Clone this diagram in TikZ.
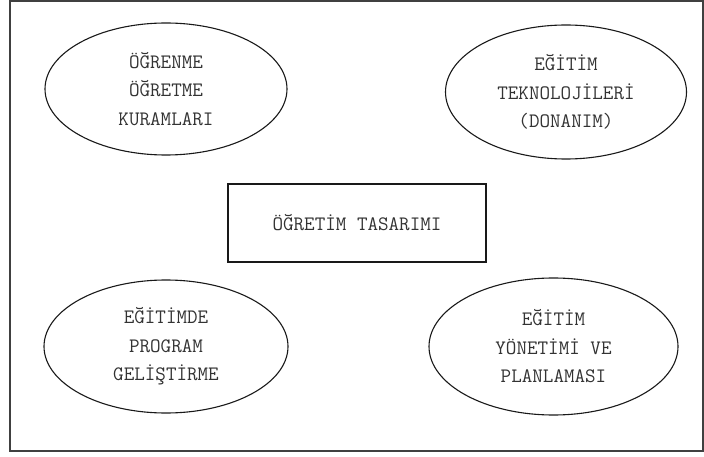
\documentclass[tikz,border=0pt]{standalone}
\usepackage{fontspec}
\usepackage{tikz}
\usetikzlibrary{shapes.geometric}

\tikzset{
  yazi/.style={font=\ttfamily\fontsize{20.5}{28.5}\selectfont, text=black!80, align=center},
  elips/.style={yazi, draw=black!90, line width=1.1pt, ellipse, inner sep=0pt},
  kutu/.style={yazi, draw=black!90, line width=1.1pt, rectangle, inner sep=0pt,
    minimum width=258pt, minimum height=78pt}
}

\begin{document}
\begin{tikzpicture}[x=1pt,y=-1pt]
\useasboundingbox (0,0) rectangle (704,457); % sayfa
\draw[line width=1.6pt, black!75] (10,1) rectangle (703,451); % çerçeve

\node[elips, minimum width=242pt, minimum height=132pt] (kuram) at (166,89)
  {ÖĞRENME\\ÖĞRETME\\KURAMLARI};
\node[elips, minimum width=241pt, minimum height=134pt] (teknoloji) at (566,92)
  {EĞİTİM\\TEKNOLOJİLERİ\\(DONANIM)};
\node[kutu] (tasarim) at (357,223) {ÖĞRETİM TASARIMI};
\node[elips, minimum width=244pt, minimum height=133pt] (program) at (166,346.5)
  {EĞİTİMDE\\PROGRAM\\GELİŞTİRME};
\node[elips, minimum width=249pt, minimum height=137pt] (yonetim) at (553.5,346.5)
  {EĞİTİM\\YÖNETİMİ VE\\PLANLAMASI};
\end{tikzpicture}
\end{document}
